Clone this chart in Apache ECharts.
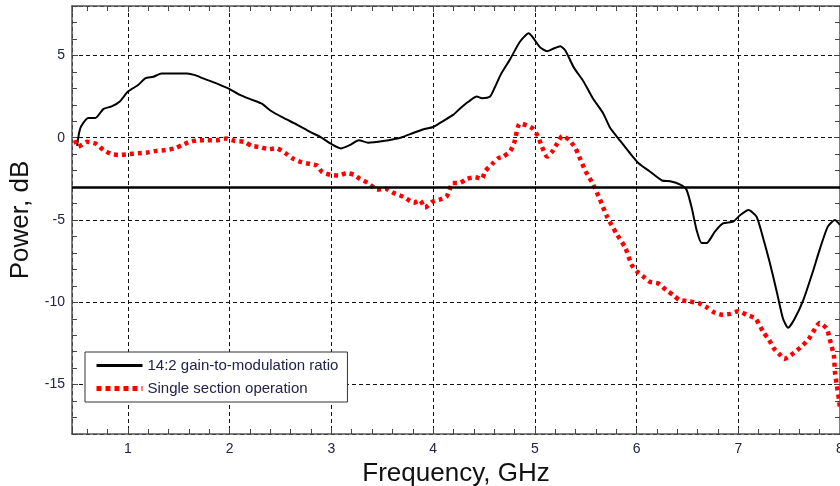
<!DOCTYPE html>
<html>
<head>
<meta charset="utf-8">
<script src="https://cdn.jsdelivr.net/npm/echarts@6/dist/echarts.min.js"></script>
<style>
  html, body { margin: 0; padding: 0; background: #fff; }
  #chart { width: 840px; height: 486px; }
</style>
</head>
<body>
<div id="chart"></div>
<script>
// 14:2 gain-to-modulation ratio (black solid)
var gainFreq = [0.50, 0.52, 0.54, 0.61, 0.68, 0.76, 0.84, 0.92, 1.00, 1.10, 1.17, 1.25, 1.33, 1.58, 1.66, 1.74, 1.87, 2.00, 2.10, 2.22, 2.32, 2.40, 2.53, 2.66, 2.79, 2.89, 2.99, 3.09, 3.18, 3.27, 3.36, 3.51, 3.68, 3.81, 3.90, 4.00, 4.08, 4.20, 4.26, 4.35, 4.43, 4.48, 4.56, 4.61, 4.67, 4.76, 4.85, 4.94, 4.98, 5.05, 5.12, 5.18, 5.25, 5.30, 5.38, 5.48, 5.57, 5.67, 5.74, 5.84, 5.93, 6.02, 6.13, 6.25, 6.33, 6.43, 6.49, 6.54, 6.59, 6.64, 6.69, 6.77, 6.85, 6.95, 7.02, 7.10, 7.18, 7.24, 7.31, 7.38, 7.44, 7.49, 7.55, 7.64, 7.73, 7.80, 7.88, 7.95, 8.00];
var gainPower = [-0.5, 0.3, 0.7, 1.2, 1.2, 1.75, 1.9, 2.2, 2.8, 3.2, 3.6, 3.7, 3.9, 3.9, 3.8, 3.6, 3.3, 2.95, 2.6, 2.3, 2.05, 1.65, 1.2, 0.8, 0.35, 0.05, -0.35, -0.65, -0.45, -0.15, -0.3, -0.2, 0.0, 0.3, 0.5, 0.65, 0.95, 1.4, 1.75, 2.2, 2.5, 2.4, 2.5, 3.1, 3.9, 4.8, 5.8, 6.35, 6.1, 5.5, 5.25, 5.4, 5.55, 5.3, 4.3, 3.4, 2.4, 1.5, 0.6, -0.2, -0.9, -1.55, -2.05, -2.6, -2.65, -2.85, -3.15, -4.2, -5.6, -6.4, -6.4, -5.7, -5.2, -5.1, -4.7, -4.4, -4.8, -6.0, -7.6, -9.4, -11.0, -11.55, -11.05, -9.85, -8.2, -6.8, -5.4, -5.0, -5.3];

// Single section operation (red dotted)
var singleFreq = [0.48, 0.51, 0.60, 0.68, 0.76, 0.84, 0.92, 1.00, 1.10, 1.19, 1.28, 1.37, 1.46, 1.53, 1.61, 1.69, 1.78, 1.87, 1.97, 2.05, 2.14, 2.22, 2.30, 2.38, 2.46, 2.55, 2.63, 2.71, 2.79, 2.86, 2.91, 2.99, 3.07, 3.15, 3.22, 3.28, 3.36, 3.45, 3.53, 3.61, 3.71, 3.81, 3.87, 3.92, 3.99, 4.07, 4.13, 4.16, 4.19, 4.26, 4.33, 4.41, 4.48, 4.51, 4.58, 4.64, 4.69, 4.76, 4.80, 4.85, 4.92, 4.98, 5.03, 5.07, 5.12, 5.17, 5.22, 5.27, 5.34, 5.40, 5.45, 5.50, 5.57, 5.64, 5.71, 5.80, 5.89, 5.95, 6.00, 6.06, 6.13, 6.21, 6.29, 6.36, 6.42, 6.52, 6.61, 6.69, 6.76, 6.84, 6.92, 7.00, 7.08, 7.17, 7.25, 7.30, 7.35, 7.42, 7.45, 7.53, 7.61, 7.69, 7.74, 7.80, 7.87, 7.90, 7.94, 7.95, 7.97, 7.99, 8.00];
var singlePower = [-0.15, -0.55, -0.25, -0.35, -0.75, -1.0, -1.05, -1.0, -0.95, -0.9, -0.8, -0.75, -0.65, -0.45, -0.25, -0.15, -0.15, -0.15, -0.05, -0.2, -0.25, -0.5, -0.57, -0.7, -0.64, -0.95, -1.3, -1.5, -1.6, -1.7, -2.1, -2.25, -2.3, -2.15, -2.25, -2.5, -2.75, -3.15, -3.1, -3.35, -3.6, -3.95, -3.8, -4.25, -3.9, -3.75, -3.6, -3.2, -2.75, -2.75, -2.5, -2.4, -2.5, -2.05, -1.6, -1.25, -1.15, -0.8, -0.25, 0.85, 0.75, 0.55, 0.1, -0.55, -1.15, -0.85, -0.35, 0.1, -0.15, -0.65, -1.35, -2.05, -2.8, -3.75, -4.8, -5.8, -6.7, -7.7, -8.1, -8.4, -8.75, -8.85, -9.25, -9.55, -9.85, -9.95, -10.05, -10.3, -10.6, -10.75, -10.7, -10.55, -10.75, -11.0, -11.85, -12.25, -12.8, -13.25, -13.45, -13.15, -12.75, -12.25, -11.75, -11.25, -11.6, -12.25, -13.25, -14.2, -15.1, -15.9, -16.5];

var threshold = -3;   // -3 dB reference line
var xRange = [0.45, 8];
var yRange = [-18, 8];

function zip(xs, ys) {
  return xs.map(function (x, i) { return [x, ys[i]]; });
}

var chart = echarts.init(document.getElementById("chart"));

var labelColor = "#22224a";
var frame = { show: true, onZero: false, lineStyle: { color: "#555", width: 1.5 } };
var gridLine = { show: true, lineStyle: { color: "#111", width: 1, type: [4, 3] } };
var tickIn = { show: true, inside: true, length: 6, lineStyle: { color: "#444" } };
var minorIn = { show: true, splitNumber: 5, length: 5, lineStyle: { color: "#444" } };

var option = {
  animation: false,
  grid: { left: 72, right: 0, top: 6, bottom: 52, outerBoundsMode: "none", containLabel: false },
  legend: {
    orient: "vertical",
    left: 85,
    top: 352,
    padding: [6, 9, 6, 9],
    itemWidth: 46,
    itemHeight: 14,
    itemGap: 8,
    backgroundColor: "#fff",
    borderColor: "#333",
    borderWidth: 1,
    borderRadius: 0,
    itemStyle: { opacity: 0 },
    textStyle: { fontFamily: "Liberation Sans, Arial", fontSize: 15, color: "#22224a" },
    data: [
      { name: "14:2 gain-to-modulation ratio", lineStyle: { width: 3 } },
      { name: "Single section operation", lineStyle: { width: 5, type: [5, 4] } }
    ]
  },
  xAxis: [
    {
      type: "value",
      min: xRange[0],
      max: xRange[1],
      splitNumber: 8,
      position: "bottom",
      name: "Frequency, GHz",
      nameLocation: "middle",
      nameGap: 22,
      nameTextStyle: { fontFamily: "Liberation Sans, Arial", fontSize: 26, color: "#111" },
      axisLine: frame,
      axisTick: tickIn,
      minorTick: minorIn,
      splitLine: gridLine,
      axisLabel: {
        margin: 8,
        fontFamily: "Liberation Sans, Arial",
        fontSize: 14,
        color: labelColor,
        formatter: function (v) { return Number.isInteger(v) ? String(v) : ""; }
      }
    },
    {
      type: "value",
      min: xRange[0],
      max: xRange[1],
      splitNumber: 8,
      position: "top",
      axisLine: frame,
      axisTick: tickIn,
      minorTick: minorIn,
      splitLine: { show: false },
      axisLabel: { show: false }
    }
  ],
  yAxis: [
    {
      type: "value",
      min: yRange[0],
      max: yRange[1],
      splitNumber: 5,
      position: "left",
      name: "Power, dB",
      nameLocation: "middle",
      nameGap: 32,
      nameTextStyle: { fontFamily: "Liberation Sans, Arial", fontSize: 26, color: "#111" },
      axisLine: frame,
      axisTick: tickIn,
      minorTick: minorIn,
      splitLine: gridLine,
      axisLabel: {
        margin: 7,
        fontFamily: "Liberation Sans, Arial",
        fontSize: 14,
        color: labelColor,
        formatter: function (v) { return v % 5 === 0 ? String(v) : ""; }
      }
    },
    {
      type: "value",
      min: yRange[0],
      max: yRange[1],
      splitNumber: 5,
      position: "right",
      axisLine: frame,
      axisTick: tickIn,
      minorTick: minorIn,
      splitLine: { show: false },
      axisLabel: { show: false }
    }
  ],
  series: [
    {
      name: "14:2 gain-to-modulation ratio",
      type: "line",
      data: zip(gainFreq, gainPower),
      symbol: "none",
      smooth: 0.2,
      lineStyle: { color: "#000", width: 2 },
      itemStyle: { color: "#000" },
      z: 3,
      markLine: {
        silent: true,
        symbol: "none",
        label: { show: false },
        lineStyle: { color: "#000", width: 2.5, type: "solid" },
        data: [{ yAxis: threshold }]
      }
    },
    {
      name: "Single section operation",
      type: "line",
      data: zip(singleFreq, singlePower),
      symbol: "none",
      smooth: 0.2,
      lineStyle: { color: "#ff0000", width: 4.5, type: [4, 4] },
      itemStyle: { color: "#ff0000" },
      z: 4
    }
  ]
};

chart.setOption(option);
</script>
</body>
</html>
